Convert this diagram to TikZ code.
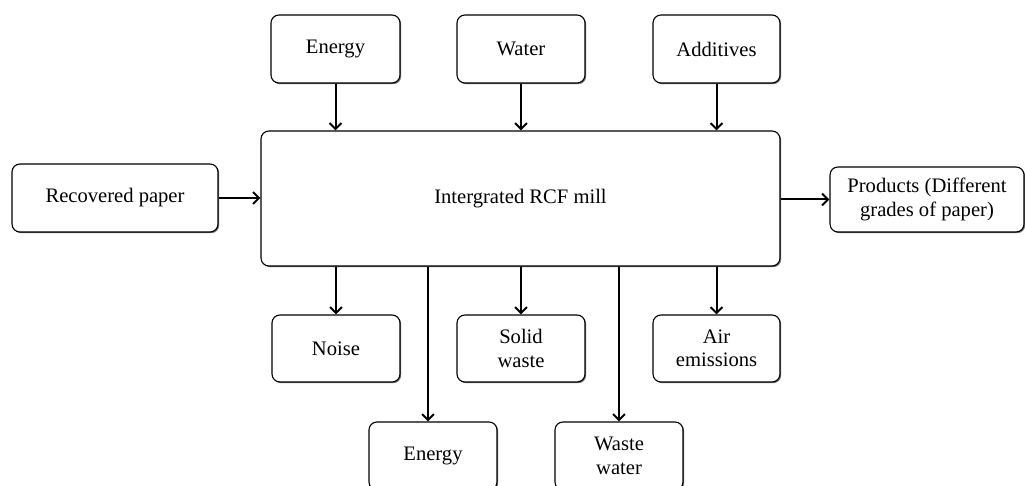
\documentclass[tikz,border=0pt]{standalone}
\usepackage{fontspec}
\setmainfont{Liberation Serif}
\usetikzlibrary{arrows.meta,shadows}
\begin{document}
\begin{tikzpicture}[x=1pt,y=-1pt,
  box/.style={draw=black, line width=1.1pt, rounded corners=8pt, fill=white,
    align=center, inner sep=2pt, font=\fontsize{20.6}{23.5}\selectfont,
    drop shadow={shadow xshift=1.2pt, shadow yshift=-1.2pt, opacity=0.55, fill=black}},
  arr/.style={draw=black, line width=2pt, -{Straight Barb[length=6pt,width=12pt,line width=2pt]}}]
\useasboundingbox (0,0) rectangle (1025,486);
\clip (0,0) rectangle (1025,486);
% input boxes
\node[box, minimum width=129pt, minimum height=68pt] (energyin) at (335.5,49) {Energy};
\node[box, minimum width=128pt, minimum height=68pt] (water) at (521,49) {Water};
\node[box, minimum width=127pt, minimum height=68pt] (additives) at (716.5,49) {Additives};
% main
\node[box, minimum width=519pt, minimum height=135pt] (main) at (520.5,198.5) {Intergrated RCF mill};
\node[box, minimum width=206pt, minimum height=68pt] (recov) at (115,198) {Recovered paper};
\node[box, minimum width=194pt, minimum height=65pt] (products) at (927,199.5) {Products (Different\\grades of paper)};
% outputs
\node[box, minimum width=128pt, minimum height=67pt] (noise) at (336,348.5) {Noise};
\node[box, minimum width=128pt, minimum height=67pt] (solid) at (521,348.5) {Solid\\waste};
\node[box, minimum width=127pt, minimum height=67pt] (air) at (716.5,348.5) {Air\\emissions};
\node[box, minimum width=128pt, minimum height=68pt] (energyout) at (433,456) {Energy};
\node[box, minimum width=128pt, minimum height=68pt] (wastewater) at (619,456) {Waste\\water};
% connectors
\draw[arr] (energyin.south) -- (energyin.south |- main.north);
\draw[arr] (water.south) -- (water.south |- main.north);
\draw[arr] (additives.south) -- (additives.south |- main.north);
\draw[arr] (recov.east) -- (main.west |- recov.east);
\draw[arr] (main.east |- products.west) -- (products.west);
\draw[arr] (noise.north |- main.south) -- (noise.north);
\draw[arr] (solid.north |- main.south) -- (solid.north);
\draw[arr] (air.north |- main.south) -- (air.north);
\draw[arr] ([xshift=-5pt]energyout.north |- main.south) -- ([xshift=-5pt]energyout.north);
\draw[arr] (wastewater.north |- main.south) -- (wastewater.north);
\end{tikzpicture}
\end{document}
